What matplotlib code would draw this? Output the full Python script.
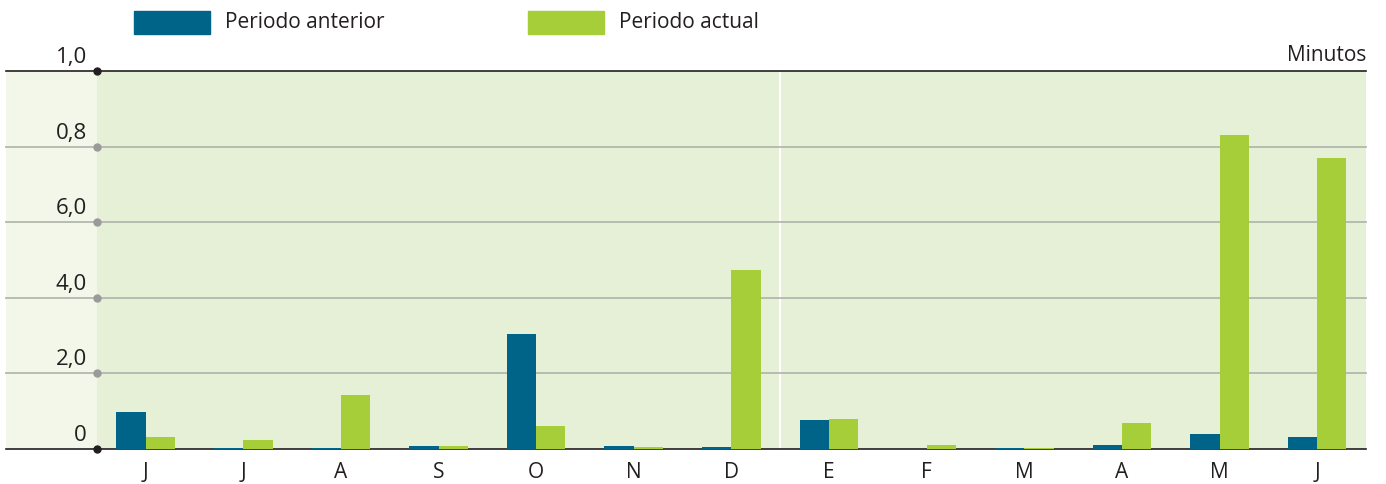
import numpy as np
import matplotlib
matplotlib.use("Agg")
from matplotlib import pyplot as plt
from matplotlib.patches import Rectangle

plt.rcParams['font.family'] = ['Open Sans', 'DejaVu Sans']

# data (minutes per month)
months = ["J", "J", "A", "S", "O", "N", "D", "E", "F", "M", "A", "M", "J"]
anterior = [0.98, 0.03, 0.03, 0.08, 3.04, 0.08, 0.05, 0.77, 0.0, 0.03, 0.11, 0.40, 0.32]
actual = [0.32, 0.24, 1.43, 0.07, 0.61, 0.05, 4.74, 0.79, 0.11, 0.03, 0.69, 8.31, 7.70]
ytick_vals = [0, 2, 4, 6, 8, 10]
ytick_labels = ["0", "2,0", "4,0", "6,0", "0,8", "1,0"]

blue = "#006388"
green = "#a6ce39"
bg_main = "#e5f0d6"
bg_strip = "#f2f7e9"
txt = "#231f20"
fs = 15

W, H = 1386, 484
fig = plt.figure(figsize=(W/100, H/100), dpi=100)
ax = fig.add_axes([6/W, (H-449)/H, (1366-6)/W, (449-71)/H])

x0 = -0.93
ax.set_xlim(x0, 13)
ax.set_ylim(0, 10)
ax.axvspan(x0, 0, color=bg_strip, zorder=0, lw=0)
ax.axvspan(0, 13, color=bg_main, zorder=0, lw=0)
ax.axvline(7, color="white", lw=1.5, zorder=1)

for v, lab in zip(ytick_vals, ytick_labels):
    edge = v in (0, 10)
    col = "#231f20" if edge else "#b3b8b0"
    ax.axhline(v, color=col, lw=1.2 if edge else 1.3, zorder=1, clip_on=False)
    ax.plot(0, v, "o", ms=5, color="#231f20" if edge else "#9a9a9a", zorder=5, clip_on=False)
    ax.text(-0.1, v + 0.08, lab, ha="right", va="bottom", fontsize=fs + 1, color=txt)

x = np.arange(len(months)) + 0.5
w = 0.3
ax.bar(x - w/2, anterior, w, color=blue, zorder=3)
ax.bar(x + w/2, actual, w, color=green, zorder=3)

ax.set_xticks(x)
ax.set_xticklabels(months, fontsize=fs, color=txt)
ax.tick_params(axis="x", length=0, pad=9)
ax.set_yticks([])
for s in ax.spines.values():
    s.set_visible(False)

ax.text(13, 10.12, "Minutos", ha="right", va="bottom", fontsize=fs, color=txt)

# legend drawn by hand
fig.patches.append(Rectangle((134/W, (H-34)/H), 76/W, 23/H, color=blue, transform=fig.transFigure))
fig.text(225/W, (H-22)/H, "Periodo anterior", va="center", fontsize=fs, color=txt)
fig.patches.append(Rectangle((528/W, (H-34)/H), 76/W, 23/H, color=green, transform=fig.transFigure))
fig.text(619/W, (H-22)/H, "Periodo actual", va="center", fontsize=fs, color=txt)

plt.savefig("out.png", dpi=100)
